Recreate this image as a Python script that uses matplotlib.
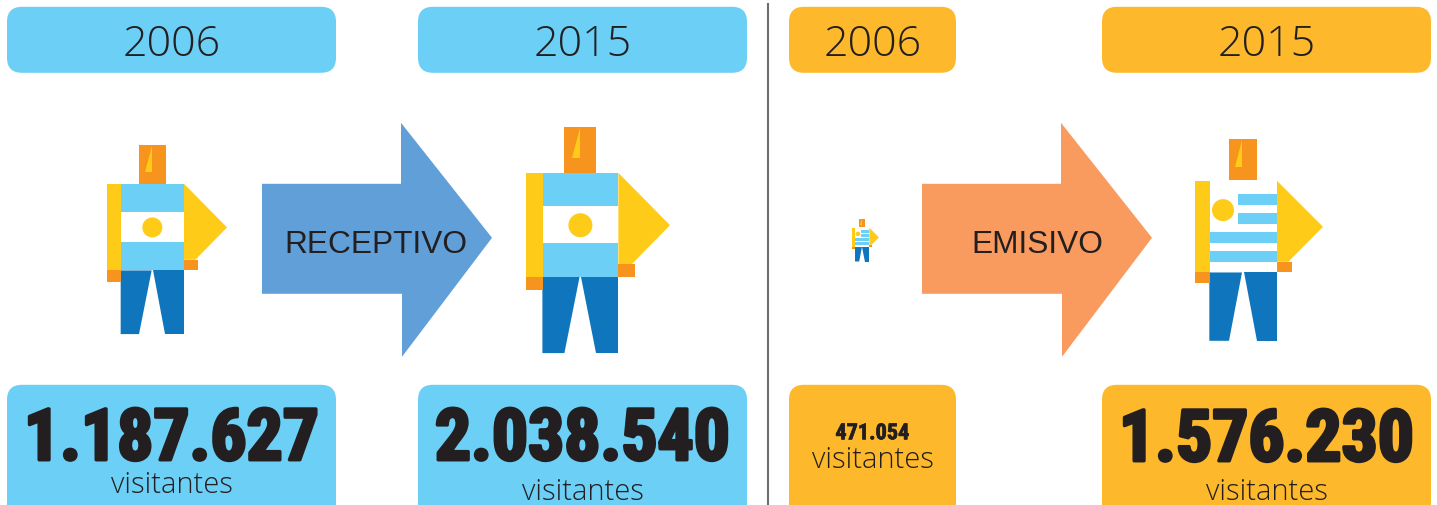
#!/usr/bin/env python3
"""Turismo receptivo / emisivo 2006 vs 2015 infographic."""

import matplotlib
matplotlib.use('Agg')
import matplotlib.pyplot as plt
import matplotlib.patheffects as pe
from matplotlib.patches import FancyBboxPatch, Polygon, Rectangle, Circle

# ── Data ──────────────────────────────────────────────────────────────────────
years    = ['2006', '2015', '2006', '2015']
visitors = ['1.187.627', '2.038.540', '471.054', '1.576.230']
unit     = 'visitantes'
flows    = ['RECEPTIVO', 'EMISIVO']

# ── Colours ───────────────────────────────────────────────────────────────────
SKY    = '#6BCFF6'
AMBER  = '#FDB92B'
YELLOW = '#FFCB19'
ORANGE = '#F7941E'
NAVY   = '#0F75BC'
DARK   = '#231F20'
THIN   = 'Open Sans'
NARROW = 'Roboto Condensed'

# ── Layout (pixels) ───────────────────────────────────────────────────────────
box_x   = [(7, 336), (418, 747), (789, 956), (1102, 1431)]
box_col = [SKY, SKY, AMBER, AMBER]
# x0, x1, y0, y1, flag
people = [(107, 227, 145.3, 334.3, 'arg'),
          (526, 670, 126.7, 353.3, 'arg'),
          (852, 879, 219.0, 261.7, 'uru'),
          (1195, 1323, 139.0, 341.0, 'uru')]
num_y   = [433, 433, 431, 434]
num_fs  = [51.5, 51.5, 16, 51.5]
unit_y  = [481, 488, 456, 488]
unit_fs = [21, 21, 21, 21]


def rbox(ax, x0, x1, y0, y1, color, r=15):
    ax.add_patch(FancyBboxPatch((x0 + r, y0 + r), x1 - x0 - 2*r, y1 - y0 - 2*r,
                                boxstyle=f'round,pad={r},rounding_size={r}',
                                fc=color, ec='none', zorder=1))


def arrow(ax, x, color):
    pts = [(x, 184), (x + 139, 184), (x + 139, 123), (x + 230, 238),
           (x + 140, 357), (x + 140, 294), (x, 294)]
    ax.add_patch(Polygon(pts, closed=True, fc=color, ec='none', zorder=2))


def person(ax, x0, x1, y0, y1, flag):
    # shapes are in zoomed-crop units, sx/sy map them onto the target box
    if flag == 'arg':
        ox, oy, w, h = 51, 46, 360, 567
        torso = (93, 282, 162, 422)
        head, tri = (147, 227, 46, 162), [(165, 126), (185, 126), (185, 50)]
        arm, hand = (51, 93, 162, 422), (51, 93, 422, 456)
        wedge = [(282, 162), (411, 293), (316, 390), (282, 390)]
        hand_r = (282, 324, 390, 422)
        legs = [[(92, 422), (185, 422), (147, 613), (92, 613)],
                [(189, 422), (282, 422), (282, 613), (226, 613)]]
        sun = (187, 293, 30)
        base = SKY
        stripes = [(93, 282, 246, 338, 'white')]
    else:
        ox, oy, w, h = 45, 27, 384, 606
        torso = (90, 291, 153, 428)
        head, tri = (147, 232, 27, 150), [(165, 112), (186, 112), (186, 32)]
        arm, hand = (45, 90, 153, 428), (45, 90, 428, 461)
        wedge = [(291, 153), (429, 291), (325, 396), (291, 396)]
        hand_r = (291, 336, 396, 428)
        legs = [[(88, 428), (186, 428), (147, 633), (88, 633)],
                [(192, 428), (291, 428), (291, 633), (231, 633)]]
        sun = (129, 241, 33)
        base = 'white'
        stripes = [(174, 291, 192, 225, SKY), (174, 291, 249, 282, SKY),
                   (90, 291, 306, 339, SKY), (90, 291, 363, 396, SKY)]

    sx, sy = (x1 - x0) / w, (y1 - y0) / h
    X = lambda v: x0 + (v - ox) * sx
    Y = lambda v: y0 + (v - oy) * sy

    def rect(r, c):
        ax.add_patch(Rectangle((X(r[0]), Y(r[2])), (r[1] - r[0]) * sx, (r[3] - r[2]) * sy,
                               fc=c, ec='none', zorder=3))

    def poly(p, c):
        ax.add_patch(Polygon([(X(a), Y(b)) for a, b in p], closed=True, fc=c, ec='none', zorder=3))

    for leg in legs:
        poly(leg, NAVY)
    rect(head, ORANGE)
    poly(tri, YELLOW)
    rect(torso, base)
    for s in stripes:
        rect(s[:4], s[4])
    rect(arm, YELLOW)
    rect(hand, ORANGE)
    poly(wedge, YELLOW)
    rect(hand_r, ORANGE)
    ax.add_patch(Circle((X(sun[0]), Y(sun[1])), sun[2] * sx, fc=YELLOW, ec='none', zorder=4))


# ── Plot ──────────────────────────────────────────────────────────────────────
fig = plt.figure(figsize=(14.37, 5.06), dpi=100)
ax = fig.add_axes([0, 0, 1, 1])
ax.set_xlim(0, 1437)
ax.set_ylim(505.2, -0.8)
ax.axis('off')

for i, (x0, x1) in enumerate(box_x):
    xc = (x0 + x1) / 2
    rbox(ax, x0, x1, 7, 73, box_col[i])
    rbox(ax, x0, x1, 385, 522, box_col[i])
    ax.text(xc, 39, years[i], ha='center', va='center_baseline', fontsize=31,
            family=THIN, weight=300, color=DARK, zorder=5)
    stroke = 2.4 if i != 2 else 0.5
    ax.text(xc, num_y[i], visitors[i], ha='center', va='center_baseline', fontsize=num_fs[i],
            family=NARROW, weight='bold', color=DARK, zorder=5,
            path_effects=[pe.withStroke(linewidth=stroke, foreground=DARK)])
    ax.text(xc, unit_y[i], unit, ha='center', va='center_baseline', fontsize=unit_fs[i],
            family=THIN, weight=300, color=DARK, zorder=5)
    person(ax, *people[i])

arrow(ax, 262, '#619FD8')
arrow(ax, 922, '#F99B5E')
ax.text(376, 241, flows[0], ha='center', va='center_baseline', fontsize=22.8,
        family='Liberation Sans', color=DARK, zorder=5)
ax.text(1037, 241, flows[1], ha='center', va='center_baseline', fontsize=22.8,
        family='Liberation Sans', color=DARK, zorder=5)

ax.plot([768, 768], [4, 506], color='#6D6E71', lw=1.5, zorder=1)

plt.savefig('out.png', dpi=100)
